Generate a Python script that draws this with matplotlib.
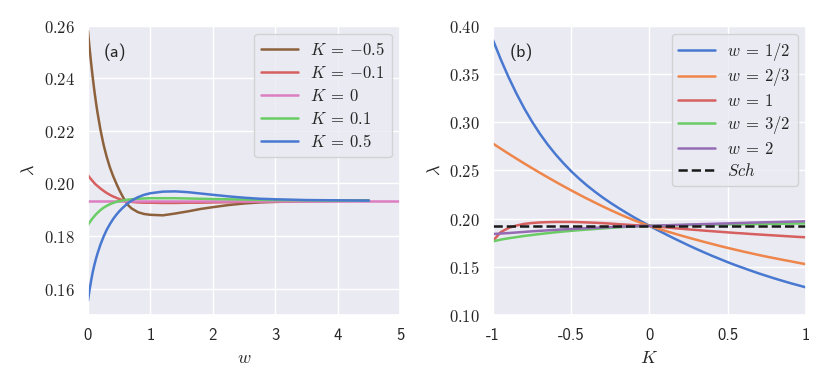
import os
import numpy as np
import matplotlib
matplotlib.use('Agg')
from matplotlib import pyplot as plt
from matplotlib.ticker import FuncFormatter
from matplotlib.font_manager import FontProperties
import seaborn as sns

# panel (a): lambda vs w for several K
w_vals = [0, 0.025, 0.05, 0.075, 0.1, 0.125, 0.15, 0.2, 0.25, 0.3, 0.35, 0.4, 0.45, 0.5,
          0.55, 0.6, 0.65, 0.7, 0.8, 0.9, 1.0, 1.2, 1.4, 1.6, 1.8, 2.0, 2.25, 2.5, 2.75,
          3.0, 3.5, 4.0, 4.5]
lam_k_m05 = [0.2580, 0.2516, 0.2458, 0.2405, 0.2357, 0.2313, 0.2273, 0.2204, 0.2147, 0.2101,
             0.2062, 0.2030, 0.2002, 0.1976, 0.1953, 0.1932, 0.1916, 0.1905, 0.1891, 0.1884,
             0.1881, 0.1879, 0.1886, 0.1894, 0.1903, 0.1910, 0.1918, 0.1924, 0.1928, 0.1930,
             0.1933, 0.1934, 0.1935]
lam_k_m01 = [0.2031, 0.2023, 0.2016, 0.2009, 0.2002, 0.1996, 0.1991, 0.1981, 0.1972, 0.1964,
             0.1957, 0.1951, 0.1946, 0.1941, 0.1937, 0.1934, 0.1932, 0.1930, 0.1928, 0.1927,
             0.1927, 0.1926, 0.1926, 0.1927, 0.1927, 0.1928, 0.1929, 0.1930, 0.1931, 0.1932,
             0.1933, 0.1934, 0.1935]
lam_k_01 = [0.1843, 0.1852, 0.1860, 0.1868, 0.1875, 0.1882, 0.1888, 0.1899, 0.1908, 0.1915,
            0.1921, 0.1926, 0.1930, 0.1933, 0.1935, 0.1937, 0.1939, 0.1940, 0.1942, 0.1943,
            0.1944, 0.1944, 0.1944, 0.1943, 0.1942, 0.1941, 0.1940, 0.1939, 0.1938, 0.1937,
            0.1936, 0.1935, 0.1935]
lam_k_05 = [0.1555, 0.1595, 0.1630, 0.1662, 0.1688, 0.1711, 0.1732, 0.1768, 0.1798, 0.1824,
            0.1845, 0.1864, 0.1880, 0.1894, 0.1906, 0.1917, 0.1927, 0.1935, 0.1948, 0.1957,
            0.1963, 0.1969, 0.1970, 0.1967, 0.1962, 0.1957, 0.1951, 0.1946, 0.1942, 0.1940,
            0.1937, 0.1936, 0.1935]
w_k0 = [0, 5]
lam_k0 = [0.1935, 0.1935]

# panel (b): lambda vs K for several w
k_vals = [-1, -0.95, -0.9, -0.85, -0.8, -0.75, -0.7, -0.65, -0.6, -0.55, -0.5, -0.45, -0.4,
          -0.35, -0.3, -0.25, -0.2, -0.15, -0.1, -0.05, 0, 0.05, 0.1, 0.15, 0.2, 0.25, 0.3,
          0.35, 0.4, 0.45, 0.5, 0.55, 0.6, 0.65, 0.7, 0.75, 0.8, 0.85, 0.9, 0.95, 1.0]
lam_w_half = [0.3849, 0.3648, 0.3463, 0.3295, 0.3141, 0.3003, 0.2878, 0.2766, 0.2665, 0.2574,
              0.2490, 0.2414, 0.2344, 0.2280, 0.2220, 0.2164, 0.2112, 0.2062, 0.2014, 0.1969,
              0.1925, 0.1882, 0.1841, 0.1800, 0.1761, 0.1722, 0.1685, 0.1649, 0.1614, 0.1581,
              0.1548, 0.1517, 0.1488, 0.1459, 0.1431, 0.1405, 0.1379, 0.1355, 0.1331, 0.1309,
              0.1287]
lam_w_2_3 = [0.2777, 0.2724, 0.2672, 0.2621, 0.2571, 0.2522, 0.2474, 0.2427, 0.2381, 0.2336,
             0.2292, 0.2249, 0.2207, 0.2167, 0.2127, 0.2089, 0.2052, 0.2017, 0.1983, 0.1953,
             0.1925, 0.1898, 0.1873, 0.1849, 0.1825, 0.1802, 0.1780, 0.1758, 0.1737, 0.1716,
             0.1696, 0.1677, 0.1658, 0.1640, 0.1622, 0.1605, 0.1589, 0.1573, 0.1558, 0.1542,
             0.1527]
lam_w_1 = [0.1770, 0.1860, 0.1903, 0.1928, 0.1945, 0.1954, 0.1960, 0.1963, 0.1965, 0.1965,
           0.1965, 0.1963, 0.1960, 0.1957, 0.1953, 0.1948, 0.1942, 0.1937, 0.1932, 0.1928,
           0.1925, 0.1917, 0.1910, 0.1902, 0.1895, 0.1888, 0.1882, 0.1875, 0.1869, 0.1863,
           0.1857, 0.1851, 0.1846, 0.1840, 0.1835, 0.1830, 0.1825, 0.1820, 0.1815, 0.1810,
           0.1806]
lam_w_3_2 = [0.1764, 0.1782, 0.1796, 0.1808, 0.1820, 0.1830, 0.1840, 0.1849, 0.1858, 0.1866,
             0.1873, 0.1880, 0.1886, 0.1892, 0.1898, 0.1904, 0.1909, 0.1914, 0.1918, 0.1922,
             0.1925, 0.1927, 0.1929, 0.1931, 0.1932, 0.1934, 0.1935, 0.1937, 0.1938, 0.1939,
             0.1940, 0.1941, 0.1942, 0.1943, 0.1944, 0.1945, 0.1946, 0.1947, 0.1948, 0.1949,
             0.1950]
lam_w_2 = [0.1840, 0.1845, 0.1850, 0.1856, 0.1862, 0.1868, 0.1873, 0.1878, 0.1883, 0.1888,
           0.1892, 0.1896, 0.1900, 0.1904, 0.1908, 0.1912, 0.1915, 0.1918, 0.1920, 0.1923,
           0.1925, 0.1928, 0.1930, 0.1933, 0.1935, 0.1938, 0.1940, 0.1943, 0.1945, 0.1948,
           0.1950, 0.1953, 0.1955, 0.1958, 0.1960, 0.1962, 0.1964, 0.1966, 0.1968, 0.1970,
           0.1972]
k_sch = [-1, 1]
lam_sch = [0.1925, 0.1925]

sns.set_theme(style='darkgrid', palette='muted')
plt.rcParams['mathtext.fontset'] = 'cm'
plt.rcParams['font.family'] = ['DejaVu Sans']

# computer modern sans for plain (non-math) labels
sf_path = os.path.join(matplotlib.get_data_path(), 'fonts', 'ttf', 'cmss10.ttf')
sf_font = FontProperties(fname=sf_path, size=12)
sf_big = FontProperties(fname=sf_path, size=13)

pal = sns.color_palette('muted')
c_blue, c_orange, c_green, c_red, c_purple, c_brown, c_pink = pal[0], pal[1], pal[2], pal[3], pal[4], pal[5], pal[6]

fig = plt.figure(figsize=(8.3, 3.88), dpi=100)
ax1 = fig.add_axes([0.106, 0.188, 0.376, 0.746])
ax2 = fig.add_axes([0.594, 0.188, 0.377, 0.746])

lw = 1.8
math_fmt = FuncFormatter(lambda v, p: r'$%.2f$' % v)

# (a)
ax1.plot(w_vals, lam_k_m05, color=c_brown, lw=lw, label=r'$K\:=\:{-0.5}$')
ax1.plot(w_vals, lam_k_m01, color=c_red, lw=lw, label=r'$K\:=\:{-0.1}$')
ax1.plot(w_k0, lam_k0, color=c_pink, lw=lw, label=r'$K\:=\:0$')
ax1.plot(w_vals, lam_k_01, color=c_green, lw=lw, label=r'$K\:=\:0.1$')
ax1.plot(w_vals, lam_k_05, color=c_blue, lw=lw, label=r'$K\:=\:0.5$')
ax1.set_xlim(0, 5)
ax1.set_ylim(0.15, 0.26)
ax1.set_xticks([0, 1, 2, 3, 4, 5])
ax1.set_xticklabels(['0', '1', '2', '3', '4', '5'])
ax1.set_yticks([0.16, 0.18, 0.20, 0.22, 0.24, 0.26])
ax1.yaxis.set_major_formatter(math_fmt)
ax1.set_xlabel(r'$w$', fontsize=13)
ax1.set_ylabel(r'$\lambda$', fontsize=13)
ax1.text(0.087, 0.908, '(a)', transform=ax1.transAxes, ha='center', va='center',
         fontproperties=sf_big)
ax1.legend(loc='upper right', fontsize=12, handlelength=2.2, handletextpad=0.75,
           labelspacing=0.3)

# (b)
ax2.plot(k_vals, lam_w_half, color=c_blue, lw=lw, label=r'$w\:=\:1/2$')
ax2.plot(k_vals, lam_w_2_3, color=c_orange, lw=lw, label=r'$w\:=\:2/3$')
ax2.plot(k_vals, lam_w_1, color=c_red, lw=lw, label=r'$w\:=\:1$')
ax2.plot(k_vals, lam_w_3_2, color=c_green, lw=lw, label=r'$w\:=\:3/2$')
ax2.plot(k_vals, lam_w_2, color=c_purple, lw=lw, label=r'$w\:=\:2$')
ax2.plot(k_sch, lam_sch, color='k', lw=lw, ls='--', label=r'$Sch$')
ax2.set_xlim(-1, 1)
ax2.set_ylim(0.10, 0.40)
ax2.set_xticks([-1, -0.5, 0, 0.5, 1])
ax2.set_xticklabels(['-1', '-0.5', '0', '0.5', '1'])
ax2.set_yticks([0.10, 0.15, 0.20, 0.25, 0.30, 0.35, 0.40])
ax2.yaxis.set_major_formatter(math_fmt)
ax2.set_xlabel(r'$K$', fontsize=13)
ax2.set_ylabel(r'$\lambda$', fontsize=13)
ax2.text(0.09, 0.908, '(b)', transform=ax2.transAxes, ha='center', va='center',
         fontproperties=sf_big)
ax2.legend(loc='upper right', fontsize=12, handlelength=2.2, handletextpad=0.75,
           labelspacing=0.23)

for ax in (ax1, ax2):
    ax.tick_params(labelsize=12)
    for lab in ax.get_xticklabels():
        lab.set_fontproperties(sf_font)

plt.savefig('out.png', dpi=100)
